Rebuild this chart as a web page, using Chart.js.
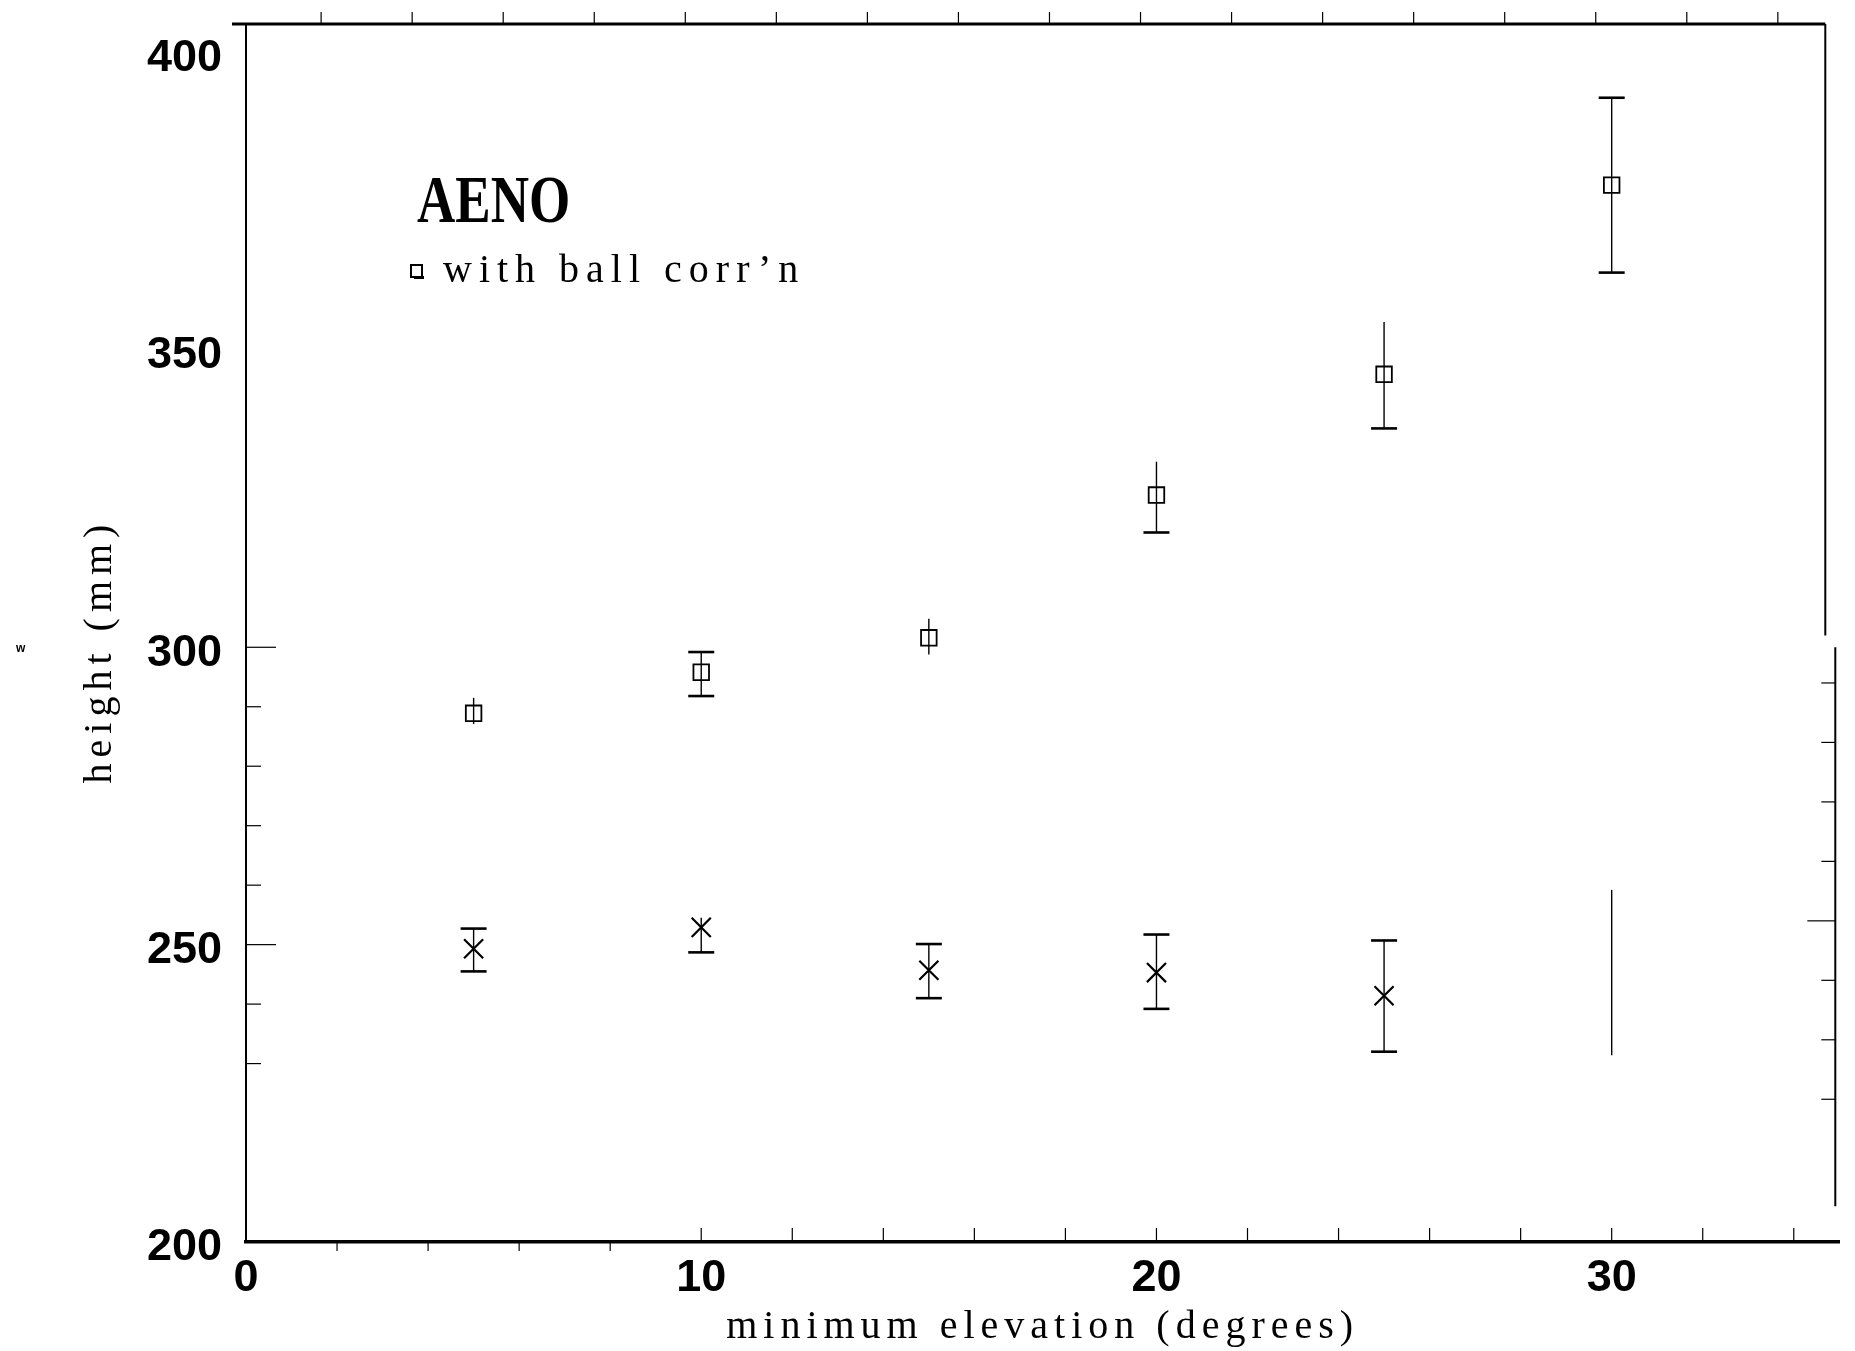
<!DOCTYPE html>
<html>
<head>
<meta charset="utf-8">
<script src="https://cdn.jsdelivr.net/npm/chart.js@4"></script>
<style>
  html, body { margin: 0; padding: 0; background: #fff; }
  #wrap { width: 1855px; height: 1351px; }
</style>
</head>
<body>
<div id="wrap"><canvas id="c" width="1855" height="1351"></canvas></div>
<script>
// ---- data ----
const elevation = [5, 10, 15, 20, 25, 30];
const withBall = [288.9, 295.8, 301.6, 325.6, 345.9, 377.7];
const withBallLow = [287.1, 291.8, 298.8, 319.3, 336.8, 363.0];
const withBallHigh = [291.5, 299.2, 304.8, 331.2, 354.7, 392.4];
const noBall = [249.3, 252.9, 245.7, 245.3, 241.4, null];
const noBallLow = [245.5, 248.7, 241.0, 239.2, 232.0, 231.4];
const noBallHigh = [252.7, 254.5, 250.1, 251.7, 250.7, 259.2];
const xTickValues = [0, 10, 20, 30];
const yTickValues = [200, 250, 300, 350, 400];
const xTitle = 'minimum elevation (degrees)';
const yTitle = 'height (mm)';
const plotTitle = 'AENO';
const legendText = 'with ball corr\u2019n';

// ---- styles (not data) ----
const sqCapTop = [false, true, false, false, false, true];
const sqCapBottom = [false, true, false, true, true, true];
const xCapTop = [true, false, true, true, true, false];
const xCapBottom = [true, true, true, true, true, false];
const titleShift = { x: 0, y: 18 };

const errorBarsPlugin = {
  id: 'errorBars',
  afterDatasetsDraw(chart) {
    const { ctx, scales: { x, y } } = chart;
    ctx.save();
    ctx.strokeStyle = '#000';
    function draw(lows, highs, capT, capB) {
      for (let i = 0; i < elevation.length; i++) {
        if (lows[i] == null) continue;
        const px = x.getPixelForValue(elevation[i]);
        const pl = y.getPixelForValue(lows[i]);
        const ph = y.getPixelForValue(highs[i]);
        ctx.lineWidth = 1.4;
        ctx.beginPath(); ctx.moveTo(px, pl); ctx.lineTo(px, ph); ctx.stroke();
        ctx.lineWidth = 2.6;
        if (capT[i]) { ctx.beginPath(); ctx.moveTo(px - 13, ph); ctx.lineTo(px + 13, ph); ctx.stroke(); }
        if (capB[i]) { ctx.beginPath(); ctx.moveTo(px - 13, pl); ctx.lineTo(px + 13, pl); ctx.stroke(); }
      }
    }
    draw(withBallLow, withBallHigh, sqCapTop, sqCapBottom);
    draw(noBallLow, noBallHigh, xCapTop, xCapBottom);
    ctx.restore();
  }
};

const frameAndLabels = {
  id: 'frameAndLabels',
  beforeDraw(chart) {
    const ctx = chart.ctx;
    ctx.save();
    ctx.fillStyle = '#fff';
    ctx.fillRect(0, 0, chart.width, chart.height);
    ctx.restore();
    // letter spaced axis titles
    for (const s of Object.values(chart.scales)) {
      if (!s._lsWrapped) {
        const orig = s.drawTitle.bind(s);
        const isY = s.id === 'y';
        s.drawTitle = function () {
          this.ctx.save();
          this.ctx.letterSpacing = '6px';
          if (isY) this.ctx.translate(titleShift.x, titleShift.y);
          orig();
          this.ctx.restore();
        };
        s._lsWrapped = true;
      }
    }
  },
  afterDraw(chart) {
    const { ctx, chartArea: a, scales: { x, y } } = chart;
    ctx.save();
    ctx.strokeStyle = '#000';
    // top frame line
    ctx.lineWidth = 3;
    ctx.beginPath(); ctx.moveTo(a.left - 14, a.top); ctx.lineTo(a.right - 14, a.top); ctx.stroke();
    // right frame line
    ctx.lineWidth = 2;
    ctx.beginPath(); ctx.moveTo(a.right - 14, a.top); ctx.lineTo(a.right - 14, y.getPixelForValue(302)); ctx.stroke();
    ctx.beginPath(); ctx.moveTo(a.right - 4, y.getPixelForValue(300)); ctx.lineTo(a.right - 4, y.getPixelForValue(206)); ctx.stroke();
    // bottom ticks
    ctx.lineWidth = 1.2;
    for (let v = 2; v <= 34; v += 2) {
      const px = x.getPixelForValue(v);
      ctx.beginPath();
      if (v <= 8) { ctx.moveTo(px, a.bottom); ctx.lineTo(px, a.bottom + 9); }
      else { ctx.moveTo(px, a.bottom); ctx.lineTo(px, a.bottom - 14); }
      ctx.stroke();
    }
    // top ticks
    for (let v = 2; v <= 34; v += 2) {
      const px = x.getPixelForValue(v - 0.35);
      ctx.beginPath(); ctx.moveTo(px, a.top); ctx.lineTo(px, a.top - 12); ctx.stroke();
    }
    // left ticks
    for (let v = 230; v <= 300; v += 10) {
      const py = y.getPixelForValue(v);
      const len = (v % 50 === 0) ? 30 : 15;
      ctx.beginPath(); ctx.moveTo(a.left, py); ctx.lineTo(a.left + len, py); ctx.stroke();
    }
    // right ticks
    for (let v = 220; v <= 290; v += 10) {
      const py = y.getPixelForValue(v + 4);
      const len = (v % 50 === 0) ? 28 : 14;
      ctx.beginPath(); ctx.moveTo(a.right - 4, py); ctx.lineTo(a.right - 4 - len, py); ctx.stroke();
    }
    // title AENO
    ctx.fillStyle = '#000';
    ctx.save();
    ctx.translate(417, 222);
    ctx.scale(0.78, 1);
    ctx.font = 'bold 68px "Liberation Serif", "Times New Roman", serif';
    ctx.textBaseline = 'alphabetic';
    ctx.fillText(plotTitle, 0, 0);
    ctx.restore();
    // legend
    ctx.lineWidth = 2;
    ctx.strokeRect(411, 265, 11, 12);
    ctx.fillRect(414, 276, 10, 3);
    ctx.font = '40px "Liberation Serif", "Times New Roman", serif';
    ctx.letterSpacing = '7px';
    ctx.fillText(legendText, 443, 282);
    ctx.letterSpacing = '0px';
    // stray mark
    ctx.font = 'bold 12px "Liberation Sans", Arial, sans-serif';
    ctx.fillText('w', 16, 652);
    ctx.restore();
  }
};

const ctx = document.getElementById('c').getContext('2d');
new Chart(ctx, {
  type: 'scatter',
  data: {
    datasets: [
      {
        label: 'with ball corr\u2019n',
        data: elevation.map((e, i) => ({ x: e, y: withBall[i] })),
        pointStyle: 'rect',
        pointRadius: 11,
        pointBorderWidth: 1.8,
        borderColor: '#000',
        backgroundColor: 'rgba(0,0,0,0)',
        showLine: false
      },
      {
        label: 'without ball corr\u2019n',
        data: elevation.map((e, i) => ({ x: e, y: noBall[i] })),
        pointStyle: 'crossRot',
        pointRadius: 13.5,
        pointBorderWidth: 2.2,
        borderColor: '#000',
        backgroundColor: '#000',
        showLine: false
      }
    ]
  },
  options: {
    responsive: false,
    animation: false,
    devicePixelRatio: 1,
    layout: { padding: { left: 0, right: 9, top: 24, bottom: 0 } },
    plugins: {
      legend: { display: false },
      tooltip: { enabled: false }
    },
    scales: {
      x: {
        type: 'linear',
        min: 0,
        max: 35,
        afterBuildTicks(scale) { scale.ticks = xTickValues.map(v => ({ value: v })); },
        afterFit(scale) { scale.height = 109; scale.paddingLeft = 0; scale.paddingRight = 0; },
        grid: { display: false, drawTicks: false },
        border: { display: true, color: '#000', width: 3.5 },
        ticks: {
          color: '#000',
          padding: 14,
          font: { family: '"Liberation Sans", Arial, sans-serif', size: 45, weight: 'bold', lineHeight: 1 },
          callback: v => String(v)
        },
        title: {
          display: true,
          text: xTitle,
          color: '#000',
          padding: { top: 0, bottom: 0 },
          font: { family: '"Liberation Serif", "Times New Roman", serif', size: 40, lineHeight: 1.2 }
        }
      },
      y: {
        type: 'linear',
        min: 200,
        max: 404.8,
        afterBuildTicks(scale) { scale.ticks = yTickValues.map(v => ({ value: v })); },
        afterFit(scale) { scale.width = 246; scale.paddingTop = 0; scale.paddingBottom = 0; },
        grid: { display: false, drawTicks: false },
        border: { display: true, color: '#000', width: 2 },
        ticks: {
          color: '#000',
          padding: 24,
          labelOffset: 6,
          font: { family: '"Liberation Sans", Arial, sans-serif', size: 45, weight: 'bold', lineHeight: 1 },
          callback: v => String(v)
        },
        title: {
          display: true,
          text: yTitle,
          color: '#000',
          padding: { top: 76, bottom: 0 },
          font: { family: '"Liberation Serif", "Times New Roman", serif', size: 40, lineHeight: 1.2 }
        }
      }
    }
  },
  plugins: [frameAndLabels, errorBarsPlugin]
});
</script>
</body>
</html>
